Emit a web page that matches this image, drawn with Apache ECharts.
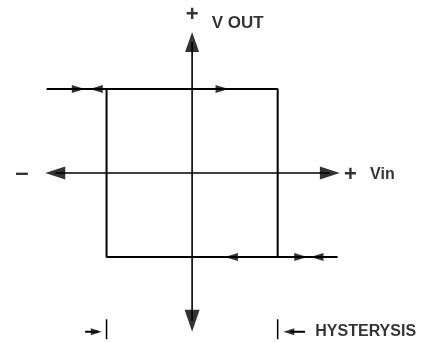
<!DOCTYPE html>
<html>
<head>
<meta charset="utf-8">
<script src="https://cdn.jsdelivr.net/npm/echarts@6/dist/echarts.min.js"></script>
<style>
  html, body { margin: 0; background: #fff; }
  #chart { width: 439px; height: 342px; }
</style>
</head>
<body>
<div id="chart"></div>
<script>
// units: Vin threshold = 1, saturated Vout = 1
var vinAxis = [[-1.60, 0], [1.61, 0]];
var voutAxis = [[0, 1.56], [0, -1.76]];
var upperBranch = [[-1.70, 1], [1, 1], [1, -1]];
var lowerBranch = [[1.70, -1], [-1, -1], [-1, 1]];
var arrowsRight = [[-1.33, 1], [0.35, 1], [1.27, -1]];
var arrowsLeft = [[-1.12, 1], [0.46, -1], [1.46, -1]];
var axisArrowsRight = [[1.61, 0]];
var axisArrowsLeft = [[-1.60, 0]];
var axisArrowsUp = [[0, 1.56]];
var axisArrowsDown = [[0, -1.76]];
var hystY = -1.89;
var hystBarLeft = [[-1, -1.74], [-1, -1.98]];
var hystBarRight = [[1, -1.74], [1, -1.98]];
var hystTailLeft = [[-1.25, hystY], [-1.10, hystY]];
var hystTailRight = [[1.32, hystY], [1.15, hystY]];
var hystArrowRight = [[-1.12, hystY]];
var hystArrowLeft = [[1.13, hystY]];
var labelTexts = ['+', 'V OUT', '\u2013', '+', 'Vin', 'HYSTERYSIS'];
var labelPos = [[0, 1.88], [0.23, 1.78], [-1.99, 0], [1.85, -0.02], [2.08, -0.02], [1.44, hystY]];
var labelAlign = ['center', 'left', 'center', 'center', 'left', 'left'];
var labelSize = [22, 17, 24, 22, 16, 16];

var chart = echarts.init(document.getElementById('chart'));

function seg(data, w) {
  return {
    type: 'line', data: data, symbol: 'none', silent: true,
    lineStyle: { color: '#000', width: w }
  };
}
function arrows(data, rot, size) {
  return {
    type: 'scatter', data: data, symbol: 'triangle', symbolRotate: rot,
    symbolSize: size, silent: true,
    itemStyle: { color: '#000' }
  };
}

var labelData = labelTexts.map(function (t, i) {
  return {
    value: labelPos[i],
    label: {
      show: true, formatter: t,
      position: labelAlign[i] == 'left' ? 'right' : 'inside',
      distance: 0,
      fontSize: labelSize[i], fontWeight: 'bold',
      fontFamily: 'Liberation Sans, Arial, sans-serif',
      color: '#000'
    }
  };
});

chart.setOption({
  animation: false,
  backgroundColor: '#fff',
  grid: { left: 21, right: 33, top: 5, bottom: 1 },
  xAxis: { type: 'value', min: -2, max: 2.5, show: false },
  yAxis: { type: 'value', min: -2, max: 2, show: false },
  series: [
    seg(vinAxis, 1.6),
    seg(voutAxis, 1.6),
    seg(upperBranch, 2),
    seg(lowerBranch, 2),
    seg(hystBarLeft, 1.5),
    seg(hystBarRight, 1.5),
    seg(hystTailLeft, 2),
    seg(hystTailRight, 2),
    arrows(arrowsRight, -90, [8, 13]),
    arrows(arrowsLeft, 90, [8, 13]),
    arrows(axisArrowsRight, -90, [13, 20]),
    arrows(axisArrowsLeft, 90, [13, 20]),
    arrows(axisArrowsUp, 0, [14, 20]),
    arrows(axisArrowsDown, 180, [15, 22]),
    arrows(hystArrowRight, -90, [7, 11]),
    arrows(hystArrowLeft, 90, [7, 11]),
    {
      type: 'scatter', data: labelData, symbolSize: 0, silent: true
    }
  ]
});
</script>
</body>
</html>
